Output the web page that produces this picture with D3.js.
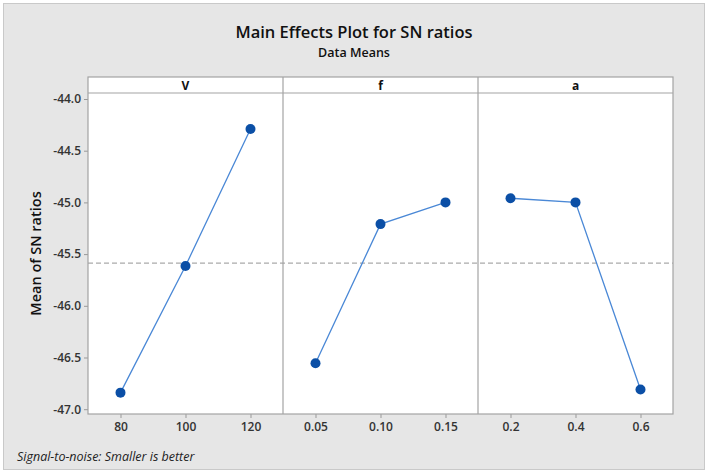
<!DOCTYPE html>
<html><head><meta charset="utf-8">
<script src="https://cdn.jsdelivr.net/npm/d3@7"></script>
<style>
html,body{margin:0;padding:0;background:#fff;}
svg{display:block;}
</style></head>
<body>
<script>
const factors = ["V", "f", "a"];
const levelsV = ["80", "100", "120"];
const levelsF = ["0.05", "0.10", "0.15"];
const levelsA = ["0.2", "0.4", "0.6"];
const valuesV = [-46.84, -45.615, -44.29];
const valuesF = [-46.556, -45.21, -45.0];
const valuesA = [-44.96, -45.0, -46.81];
const yTicks = [-44.0, -44.5, -45.0, -45.5, -46.0, -46.5, -47.0];

const panels = [
  {name: factors[0], levels: levelsV, values: valuesV},
  {name: factors[1], levels: levelsF, values: valuesF},
  {name: factors[2], levels: levelsA, values: valuesA}
];
const allVals = valuesV.concat(valuesF, valuesA);
const grandMean = d3.mean(allVals);

const W = 708, H = 475;
const font = "'Open Sans', 'Noto Sans', sans-serif";
const svg = d3.select("body").append("svg").attr("width", W).attr("height", H);

// outer gray panel
svg.append("rect").attr("x", 3.5).attr("y", 3.5).attr("width", 701).attr("height", 466)
  .attr("fill", "#e6e6e6").attr("stroke", "#c9c9c9");

const plotL = 88, plotR = 673, plotT = 93, plotB = 414;
const headT = 77;
const panelW = (plotR - plotL) / 3;

const y = d3.scaleLinear().domain([-47.0, -44.0]).range([409.2, 99]);

// title
svg.append("text").attr("x", 354).attr("y", 38).attr("text-anchor", "middle")
  .attr("font-family", font).attr("font-size", 16.5).attr("font-weight", 600).attr("fill", "#111").text("Main Effects Plot for SN ratios");
svg.append("text").attr("x", 354).attr("y", 57).attr("text-anchor", "middle")
  .attr("font-family", font).attr("font-size", 12.5).attr("font-weight", 600).attr("fill", "#111").text("Data Means");

// plot bg
svg.append("rect").attr("x", plotL).attr("y", headT).attr("width", plotR - plotL).attr("height", plotB - headT)
  .attr("fill", "#fff");

// y axis
const yAxis = d3.axisLeft(y).tickValues(yTicks).tickFormat(d3.format(".1f")).tickSize(4).tickPadding(3);
const ya = svg.append("g").attr("transform", `translate(${plotL},0)`).call(yAxis);
ya.select(".domain").remove();
ya.selectAll(".tick line").attr("stroke", "#999");
ya.selectAll(".tick text").attr("font-family", font).attr("font-size", 12).attr("font-weight", 600).attr("fill", "#333")
  .text(d => d3.format(".1f")(d).replace("−", "-"));

// y label
svg.append("text").attr("transform", `translate(41,${(plotT + plotB) / 2}) rotate(-90)`)
  .attr("text-anchor", "middle").attr("font-family", font).attr("font-size", 14.5)
  .attr("font-weight", 600).attr("fill", "#111").text("Mean of SN ratios");

// mean line
svg.append("line").attr("x1", plotL).attr("x2", plotR).attr("y1", y(grandMean)).attr("y2", y(grandMean))
  .attr("stroke", "#aaa").attr("stroke-width", 1.3).attr("stroke-dasharray", "5,3");

panels.forEach((p, i) => {
  const x0 = plotL + i * panelW;
  const x = d3.scalePoint().domain(p.levels).range([x0, x0 + panelW]).padding(0.5);
  const xa = svg.append("g").attr("transform", `translate(0,${plotB})`)
    .call(d3.axisBottom(x).tickSize(4).tickPadding(4));
  xa.select(".domain").remove();
  xa.selectAll(".tick line").attr("stroke", "#999");
  xa.selectAll(".tick text").attr("font-family", font).attr("font-size", 12).attr("font-weight", 600).attr("fill", "#333");
  svg.append("text").attr("x", x0 + panelW / 2).attr("y", 89.5).attr("text-anchor", "middle")
    .attr("font-family", font).attr("font-size", 12).attr("font-weight", 700).attr("fill", "#111").text(p.name);
  const pts = p.levels.map((l, j) => [x(l), y(p.values[j])]);
  svg.append("path").attr("d", d3.line()(pts)).attr("fill", "none").attr("stroke", "#4a88d6").attr("stroke-width", 1.3);
  svg.selectAll(null).data(pts).enter().append("circle")
    .attr("cx", d => d[0]).attr("cy", d => d[1]).attr("r", 5).attr("fill", "#0b4fa6");
});

// borders
const g = svg.append("g").attr("fill", "none").attr("stroke", "#a3a3a3").attr("stroke-width", 1.2);
g.append("rect").attr("x", plotL).attr("y", headT).attr("width", plotR - plotL).attr("height", plotB - headT);
g.append("line").attr("x1", plotL).attr("x2", plotR).attr("y1", plotT).attr("y2", plotT);
for (let i = 1; i < 3; i++) {
  g.append("line").attr("x1", plotL + i * panelW).attr("x2", plotL + i * panelW).attr("y1", headT).attr("y2", plotB);
}

// footnote
svg.append("text").attr("x", 17).attr("y", 461).attr("font-family", font).attr("font-size", 12.5)
  .attr("font-style", "italic").attr("fill", "#222").text("Signal-to-noise: Smaller is better");
</script>
</body></html>
